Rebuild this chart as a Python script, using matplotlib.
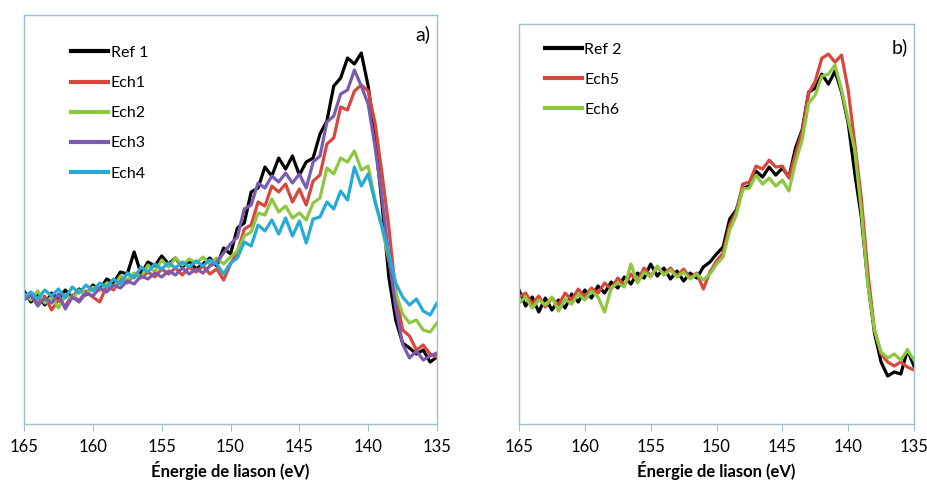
import numpy as np
import matplotlib
matplotlib.use("Agg")
import matplotlib.pyplot as plt

plt.rcParams['font.family'] = ['Lato', 'DejaVu Sans']

# binding energy grid, 165 -> 135 eV, 0.5 eV step
energy = np.arange(165.0, 134.99, -0.5)

# panel a (arbitrary intensity units)
ref1 = [133, 122, 130, 119, 131, 125, 134, 126, 135, 129, 139, 134, 145, 141, 152, 150, 172, 150, 162, 158,
        168, 160, 166, 157, 163, 155, 160, 166, 158,
        176, 170, 196, 201, 232, 236, 257, 248, 266, 255, 268, 249, 262, 266, 290, 303, 338, 346, 366, 360,
        371, 338, 286, 221, 147, 104, 81, 76, 70, 74, 62, 67]
ech1 = [126, 131, 120, 128, 114, 124, 118, 129, 123, 133, 127, 122, 138, 134, 145, 141, 150, 146, 152, 147,
        155, 150, 156, 149, 157, 152, 158, 150, 155,
        144, 160, 172, 195, 199, 222, 218, 238, 232, 240, 222, 235, 219, 243, 249, 280, 286, 317, 314, 333,
        339, 333, 301, 251, 197, 131, 94, 88, 74, 79, 70, 67]
ech2 = [130, 124, 133, 121, 127, 116, 129, 125, 134, 130, 137, 133, 141, 137, 148, 144, 151, 147, 159, 152,
        164, 157, 166, 159, 165, 161, 167, 160, 166,
        160, 167, 173, 188, 192, 211, 209, 225, 212, 218, 206, 211, 204, 221, 226, 256, 250, 266, 262, 273,
        254, 258, 224, 197, 164, 131, 110, 101, 104, 94, 92, 101]
ech3 = [124, 129, 118, 126, 121, 130, 115, 127, 122, 131, 128, 136, 132, 139, 136, 143, 140, 148, 145, 151,
        147, 153, 149, 156, 150, 155, 151, 158, 162,
        171, 180, 187, 215, 219, 241, 236, 248, 242, 251, 241, 250, 236, 262, 268, 302, 308, 330, 334, 354,
        338, 320, 277, 227, 167, 117, 80, 66, 73, 64, 68, 71]
ech4 = [127, 132, 125, 134, 128, 135, 126, 137, 131, 139, 133, 141, 137, 145, 140, 151, 146, 157, 152, 160,
        155, 161, 156, 162, 157, 163, 158, 164, 160,
        150, 161, 166, 182, 178, 199, 193, 204, 190, 206, 188, 203, 181, 205, 207, 222, 215, 233, 224, 257,
        238, 250, 222, 197, 171, 141, 127, 119, 125, 113, 109, 121]

# panel b
ref2 = [134, 118, 127, 112, 126, 114, 124, 116, 130, 122, 134, 126, 138, 131, 142, 136, 147, 140, 151, 146,
        160, 148, 156, 145, 153, 143, 151, 146, 157,
        162, 170, 177, 205, 214, 236, 238, 253, 247, 257, 249, 256, 247, 276, 294, 332, 336, 350, 340, 353,
        332, 301, 251, 207, 141, 91, 62, 48, 52, 50, 74, 58]
ech5 = [127, 131, 120, 128, 117, 126, 119, 131, 124, 135, 127, 136, 131, 141, 135, 146, 139, 150, 143, 156,
        148, 157, 150, 156, 148, 155, 146, 151, 135,
        152, 163, 171, 199, 212, 240, 242, 258, 255, 264, 257, 258, 246, 270, 292, 331, 343, 366, 370, 362,
        369, 334, 281, 226, 151, 94, 70, 62, 58, 62, 57, 54]
ech6 = [121, 127, 116, 124, 119, 127, 113, 125, 120, 130, 124, 133, 127, 112, 136, 141, 137, 160, 141, 152,
        147, 158, 149, 154, 147, 152, 145, 150, 144,
        150, 160, 167, 194, 209, 235, 236, 249, 240, 246, 238, 244, 233, 262, 284, 321, 329, 348, 350, 359,
        334, 304, 274, 213, 138, 94, 72, 66, 70, 64, 74, 64]

series_a = [("Ref 1", ref1, "#000000"), ("Ech1", ech1, "#D8473C"), ("Ech2", ech2, "#8DC63F"),
            ("Ech3", ech3, "#7B5BB0"), ("Ech4", ech4, "#27AAD6")]
series_b = [("Ref 2", ref2, "#000000"), ("Ech5", ech5, "#D8473C"), ("Ech6", ech6, "#8DC63F")]

xticks = [165, 160, 155, 150, 145, 140, 135]
axis_col = "#9DBFD0"

fig = plt.figure(figsize=(9.28, 4.8), dpi=100)
ax1 = fig.add_axes([0.0259, 0.1167, 0.445, 0.852])
ax2 = fig.add_axes([0.5593, 0.1167, 0.4256, 0.833])


def style(ax, series, ymax, tag, tagpos, legpos):
    for name, vals, col in series:
        ax.plot(energy, vals, color=col, lw=2.3, label=name)
    ax.set_xlim(165, 135)
    ax.set_ylim(0, ymax)
    ax.set_xticks(xticks)
    ax.set_yticks([])
    for s in ax.spines.values():
        s.set_color(axis_col)
        s.set_linewidth(1.0)
    ax.tick_params(axis='x', direction='out', length=5, color=axis_col, labelsize=12, pad=6)
    ax.set_xlabel("Énergie de liason (eV)", fontsize=12, fontweight='bold', labelpad=4)
    ax.text(tagpos[0], tagpos[1], tag, transform=ax.transAxes, fontsize=14, ha='right', va='top')
    leg = ax.legend(loc='upper left', bbox_to_anchor=legpos, frameon=False, fontsize=11.5,
                    handlelength=2.3, handletextpad=0.15, labelspacing=1.0)
    for line in leg.get_lines():
        line.set_linewidth(3)


style(ax1, series_a, 409, "a)", (0.985, 0.975), (0.08, 0.96))
style(ax2, series_b, 400, "b)", (0.985, 0.965), (0.03, 0.99))

fig.savefig("out.png", dpi=100)
